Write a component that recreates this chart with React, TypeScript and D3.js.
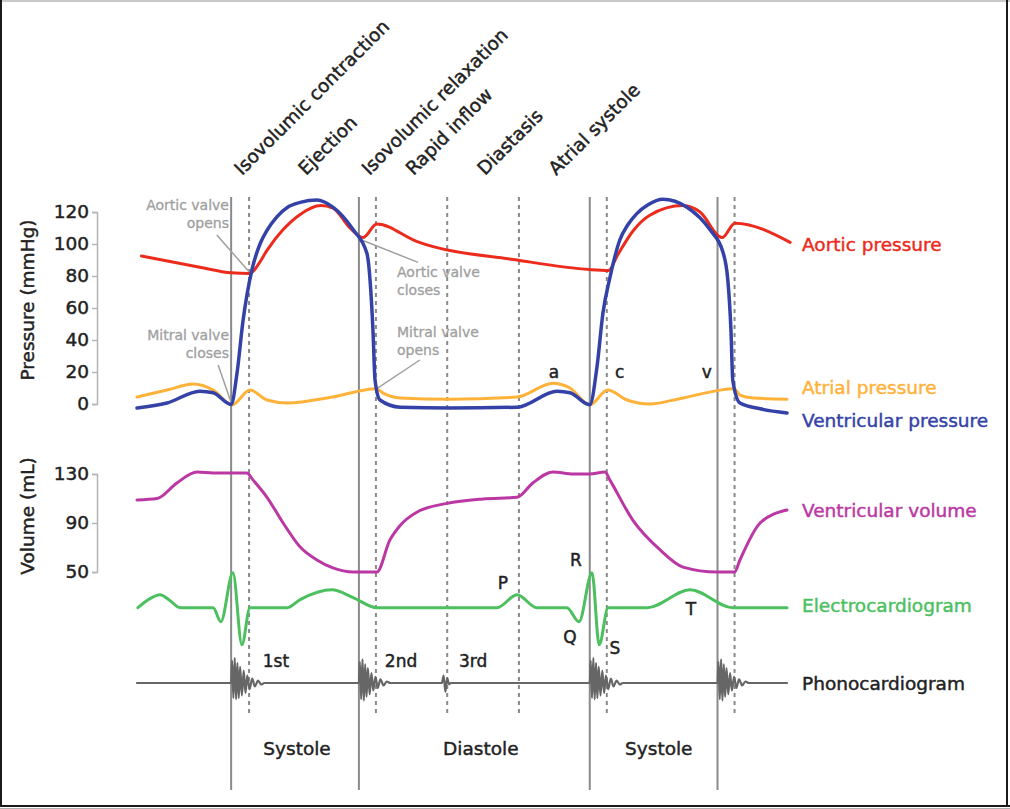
import React, { useEffect, useRef } from 'react';
import * as d3 from 'd3';

type Point = [number, number];

const width = 1010;
const height = 809;
const font = "'DejaVu Sans', sans-serif";

// cardiac events, seconds from start of trace
const solidEvents = [0.21, 0.495, 1.01, 1.295];
const dashedEvents = [0.25, 0.533, 0.692, 0.852, 1.048, 1.333];
const phaseBounds = [0.21, 0.25, 0.495, 0.533, 0.692, 0.852, 1.01];
const phaseNames = ['Isovolumic contraction', 'Ejection', 'Isovolumic relaxation', 'Rapid inflow', 'Diastasis', 'Atrial systole'];
const periodNames = ['Systole', 'Diastole', 'Systole'];
const periodCentres = [0.357, 0.767, 1.164];

const pressureTicks = [0, 20, 40, 60, 80, 100, 120];
const volumeTicks = [50, 90, 130];

// [time s, mmHg]
const aorticPressure: Point[] = [
  [0.01, 92.5], [0.14, 85.5], [0.21, 82], [0.252, 81.5], [0.27, 87], [0.29, 96], [0.326, 109],
  [0.364, 118.5], [0.41, 124], [0.437, 122.5], [0.475, 110], [0.504, 104], [0.535, 112.5],
  [0.625, 101.5], [0.848, 90], [1.01, 84], [1.052, 83.5], [1.072, 93], [1.106, 108],
  [1.144, 118], [1.218, 124], [1.256, 120], [1.305, 104], [1.334, 113], [1.457, 101],
];

const ventricularPressure: Point[] = [
  [0, -2.5], [0.067, 0.6], [0.14, 8], [0.17, 7], [0.21, -0.3], [0.223, 19], [0.2365, 52],
  [0.2565, 84], [0.2744, 100], [0.29, 108.5], [0.312, 117], [0.336, 123], [0.364, 126],
  [0.4015, 127.5], [0.437, 123], [0.482, 109], [0.513, 94], [0.52, 77], [0.5264, 46],
  [0.531, 15], [0.542, 2.5], [0.587, -2], [0.698, -2.5], [0.848, -2], [0.937, 8], [0.966, 7],
  [1.01, -0.5], [1.026, 23], [1.0395, 57], [1.055, 79], [1.077, 102.5], [1.095, 112],
  [1.115, 119], [1.14, 124.5], [1.173, 128], [1.227, 123], [1.278, 109], [1.307, 95],
  [1.318, 77.5], [1.325, 46], [1.329, 15], [1.345, 0.6], [1.39, -3], [1.45, -5.6],
];

const atrialPressure: Point[] = [
  [0, 4.4], [0.067, 8.7], [0.125, 12.5], [0.17, 8.7], [0.212, -0.5], [0.252, 8.7], [0.29, 2.5],
  [0.335, 0.6], [0.437, 4.4], [0.533, 9.6], [0.548, 7], [0.587, 3.8], [0.698, 3], [0.848, 4.4],
  [0.928, 13], [0.966, 10], [1.01, -0.5], [1.05, 8.7], [1.093, 2.5], [1.144, 0], [1.218, 3.8],
  [1.332, 9.6], [1.345, 5.6], [1.375, 3.8], [1.45, 3],
];

// [time s, mL]
const ventricularVolume: Point[] = [
  [0, 108.8], [0.045, 110], [0.089, 122.7], [0.134, 131.6], [0.17, 130.8], [0.214, 130.8],
  [0.245, 130.8], [0.259, 125], [0.29, 111], [0.326, 90], [0.364, 70.4], [0.4015, 59.8],
  [0.437, 53.3], [0.482, 50], [0.535, 50], [0.564, 76], [0.587, 88], [0.625, 99], [0.6915, 106],
  [0.772, 109.6], [0.848, 111], [0.883, 122.7], [0.928, 131.6], [0.973, 130], [1.01, 130],
  [1.044, 131.6], [1.055, 125], [1.106, 92.4], [1.167, 68], [1.218, 54], [1.294, 50],
  [1.333, 50], [1.345, 59.8], [1.39, 90], [1.45, 100.6],
];

// [time s, mV]
const electrocardiogram: Point[] = [
  [0.002, 0], [0.029, 0.26], [0.051, 0.37], [0.074, 0.2], [0.096, 0], [0.17, 0], [0.187, -0.4],
  [0.214, 1.0], [0.234, -1.06], [0.252, 0], [0.335, 0], [0.364, 0.23], [0.435, 0.51],
  [0.482, 0.29], [0.535, 0], [0.803, 0], [0.848, 0.37], [0.892, 0], [0.959, 0], [0.986, -0.4],
  [1.015, 1.0], [1.031, -1.06], [1.051, 0], [1.138, 0], [1.234, 0.51], [1.329, 0], [1.45, 0],
];

// heart sounds: [ms after onset, relative amplitude]
const firstSound: Point[] = [
  [0, 0], [2, 0.9], [5, -0.6], [8, 1.0], [11, -0.65], [14, 0.8], [17, -0.6], [20, 0.65],
  [24, -0.5], [28, 0.5], [32, -0.4], [36, 0.3], [41, -0.25], [47, 0.18], [53, -0.14],
  [60, 0.1], [67, -0.06], [74, 0],
];
const secondSound: Point[] = [
  [0, 0], [2, 0.85], [5, -0.65], [8, 0.95], [11, -0.7], [14, 0.75], [17, -0.55], [20, 0.6],
  [24, -0.45], [28, 0.4], [32, -0.3], [37, 0.25], [42, -0.2], [48, 0.15], [55, -0.1],
  [62, 0.06], [70, 0],
];
const thirdSound: Point[] = [[0, 0], [4, 0.3], [8, -0.35], [12, 0.2], [16, -0.05], [20, 0]];
const soundOnsets: { t: number; wave: Point[] }[] = [
  { t: 0.21, wave: firstSound },
  { t: 0.495, wave: secondSound },
  { t: 0.68, wave: thirdSound },
  { t: 1.01, wave: firstSound },
  { t: 1.295, wave: secondSound },
];
const soundNames = ['1st', '2nd', '3rd'];
const soundLabelTimes = [0.31, 0.589, 0.75];

const colors = {
  aortic: '#ec2b1c',
  atrial: '#ffb23a',
  ventricular: '#3442a8',
  volume: '#bb37a3',
  ecg: '#4cbf5f',
  phono: '#666666',
  grid: '#8a8a8a',
  note: '#a0a0a0',
  text: '#222222',
};

const App: React.FC = () => {
  const svgRef = useRef<SVGSVGElement | null>(null);

  useEffect(() => {
    if (!svgRef.current) {
      return;
    }
    const svg = d3.select(svgRef.current);
    svg.selectAll('*').remove();

    const x = d3.scaleLinear().domain([0, 1.45]).range([137, 787]);
    const pressureY = d3.scaleLinear().domain([0, 120]).range([404, 212]);
    const volumeY = d3.scaleLinear().domain([50, 130]).range([572, 474]);
    const ecgY = d3.scaleLinear().domain([-1, 1]).range([642.7, 572.7]);
    const phonoY = d3.scaleLinear().domain([-1, 1]).range([708, 658]);

    svg.append('rect').attr('width', width).attr('height', height).attr('fill', '#ffffff');

    // frame
    svg.append('line').attr('x1', 0).attr('x2', width).attr('y1', 1).attr('y2', 1)
      .attr('stroke', '#c8c8c8').attr('stroke-width', 2);
    svg.append('line').attr('x1', 1).attr('x2', 1).attr('y1', 0).attr('y2', 807)
      .attr('stroke', '#1a1a1a').attr('stroke-width', 2);
    svg.append('line').attr('x1', 1007).attr('x2', 1007).attr('y1', 0).attr('y2', 807)
      .attr('stroke', '#1a1a1a').attr('stroke-width', 2);
    svg.append('line').attr('x1', 0).attr('x2', width).attr('y1', 806).attr('y2', 806)
      .attr('stroke', '#1a1a1a').attr('stroke-width', 2);
    svg.append('line').attr('x1', 0).attr('x2', width).attr('y1', 808.5).attr('y2', 808.5)
      .attr('stroke', '#b0b0b0').attr('stroke-width', 1);

    // event lines
    svg.append('g')
      .selectAll('line')
      .data(solidEvents)
      .join('line')
      .attr('x1', d => x(d))
      .attr('x2', d => x(d))
      .attr('y1', 197)
      .attr('y2', 790)
      .attr('stroke', colors.grid)
      .attr('stroke-width', 2);

    svg.append('g')
      .selectAll('line')
      .data(dashedEvents)
      .join('line')
      .attr('x1', d => x(d))
      .attr('x2', d => x(d))
      .attr('y1', 197)
      .attr('y2', 716)
      .attr('stroke', colors.grid)
      .attr('stroke-width', 2)
      .attr('stroke-dasharray', '4 4');

    // heavier text, the reference lettering is a little bold
    const thicken = (sel: d3.Selection<any, any, any, any>, color: string, w = 0.45) =>
      sel.attr('stroke', color).attr('stroke-width', w).attr('stroke-linejoin', 'round');

    // phase labels
    svg.append('g')
      .selectAll('text')
      .data(phaseNames)
      .join('text')
      .attr('transform', (_, i) => {
        const cx = x((phaseBounds[i] + phaseBounds[i + 1]) / 2) + 2;
        return `translate(${cx},176) rotate(-45)`;
      })
      .attr('font-family', font)
      .attr('font-size', 18.5)
      .attr('fill', colors.text)
      .call(s => thicken(s, colors.text))
      .text(d => d);

    // axes
    const styleAxis = (g: d3.Selection<SVGGElement, unknown, null, undefined>) => {
      g.select('.domain').attr('stroke', '#b5b5b5').attr('stroke-width', 1.5);
      g.selectAll('.tick line').attr('stroke', '#b5b5b5').attr('stroke-width', 1.5);
      g.selectAll('.tick text')
        .attr('font-family', font)
        .attr('font-size', 18.5)
        .attr('fill', colors.text)
        .attr('stroke', colors.text)
        .attr('stroke-width', 0.45);
    };

    svg.append('g')
      .attr('transform', 'translate(97,0)')
      .call(d3.axisLeft(pressureY).tickValues(pressureTicks).tickSize(5).tickPadding(3))
      .call(styleAxis);

    svg.append('g')
      .attr('transform', 'translate(97,0)')
      .call(d3.axisLeft(volumeY).tickValues(volumeTicks).tickSize(5).tickPadding(3))
      .call(styleAxis);

    svg.append('text')
      .attr('transform', 'translate(34,300) rotate(-90)')
      .attr('text-anchor', 'middle')
      .attr('font-family', font)
      .attr('font-size', 18.5)
      .attr('fill', colors.text)
      .call(s => thicken(s, colors.text))
      .text('Pressure (mmHg)');

    svg.append('text')
      .attr('transform', 'translate(34,516) rotate(-90)')
      .attr('text-anchor', 'middle')
      .attr('font-family', font)
      .attr('font-size', 18.5)
      .attr('fill', colors.text)
      .call(s => thicken(s, colors.text))
      .text('Volume (mL)');

    // valve annotations
    const notes = svg.append('g')
      .attr('font-family', font)
      .attr('font-size', 14)
      .attr('fill', colors.note);
    const noteLine = (a: Point, b: Point) => {
      notes.append('line')
        .attr('x1', x(a[0])).attr('y1', pressureY(a[1]))
        .attr('x2', x(b[0])).attr('y2', pressureY(b[1]))
        .attr('stroke', colors.note)
        .attr('stroke-width', 1.5);
    };
    noteLine([0.178, 105.6], [0.252, 82]);
    noteLine([0.181, 24.4], [0.21, 1]);
    noteLine([0.497, 103], [0.627, 88.5]);
    noteLine([0.631, 27.5], [0.535, 9.6]);

    const addNote = (lines: string[], px: number, py: number, anchor: string) => {
      lines.forEach((line, i) => {
        notes.append('text')
          .attr('x', px)
          .attr('y', py + i * 18)
          .attr('text-anchor', anchor)
          .attr('stroke', colors.note)
          .attr('stroke-width', 0.3)
          .text(line);
      });
    };
    addNote(['Aortic valve', 'opens'], 229, 210, 'end');
    addNote(['Mitral valve', 'closes'], 229, 340, 'end');
    addNote(['Aortic valve', 'closes'], 397, 277, 'start');
    addNote(['Mitral valve', 'opens'], 397, 337, 'start');

    // curves
    const plot = (data: Point[], y: d3.ScaleLinear<number, number>, color: string, w: number, curve: d3.CurveFactory) => {
      const line = d3.line<Point>()
        .x(d => x(d[0]))
        .y(d => y(d[1]))
        .curve(curve);
      svg.append('path')
        .datum(data)
        .attr('fill', 'none')
        .attr('stroke', color)
        .attr('stroke-width', w)
        .attr('stroke-linejoin', 'round')
        .attr('stroke-linecap', 'round')
        .attr('d', line);
    };

    const phonocardiogram: Point[] = [[0, 0]];
    soundOnsets.forEach(s => {
      s.wave.forEach(([ms, a]) => phonocardiogram.push([s.t + ms / 1000, a]));
    });
    phonocardiogram.push([1.45, 0]);

    plot(aorticPressure, pressureY, colors.aortic, 3, d3.curveMonotoneX);
    plot(atrialPressure, pressureY, colors.atrial, 3, d3.curveMonotoneX);
    plot(ventricularPressure, pressureY, colors.ventricular, 3.5, d3.curveMonotoneX);
    plot(ventricularVolume, volumeY, colors.volume, 3, d3.curveMonotoneX);
    plot(electrocardiogram, ecgY, colors.ecg, 3, d3.curveMonotoneX);
    plot(phonocardiogram, phonoY, colors.phono, 2.2, d3.curveMonotoneX);

    // waveform letters
    const letters = svg.append('g')
      .attr('font-family', font)
      .attr('font-size', 17)
      .attr('fill', colors.text)
      .attr('stroke', colors.text)
      .attr('stroke-width', 0.45)
      .attr('text-anchor', 'middle')
      .attr('dominant-baseline', 'central');

    const pressureLetters: { label: string; t: number; v: number }[] = [
      { label: 'a', t: 0.93, v: 20 },
      { label: 'c', t: 1.077, v: 20 },
      { label: 'v', t: 1.271, v: 20 },
    ];
    pressureLetters.forEach(d => {
      letters.append('text').attr('x', x(d.t)).attr('y', pressureY(d.v)).text(d.label);
    });

    const ecgLetters: { label: string; t: number; v: number }[] = [
      { label: 'P', t: 0.816, v: 0.7 },
      { label: 'R', t: 0.979, v: 1.36 },
      { label: 'Q', t: 0.966, v: -0.84 },
      { label: 'S', t: 1.066, v: -1.15 },
      { label: 'T', t: 1.236, v: -0.05 },
    ];
    ecgLetters.forEach(d => {
      letters.append('text').attr('x', x(d.t)).attr('y', ecgY(d.v)).text(d.label);
    });

    soundNames.forEach((name, i) => {
      letters.append('text').attr('x', x(soundLabelTimes[i])).attr('y', phonoY(0.88)).text(name);
    });

    periodNames.forEach((name, i) => {
      letters.append('text')
        .attr('x', x(periodCentres[i]))
        .attr('y', 748)
        .attr('font-size', 18.5)
        .text(name);
    });

    // series names on the right
    const seriesLabels: { label: string; color: string; y: number }[] = [
      { label: 'Aortic pressure', color: colors.aortic, y: pressureY(100) },
      { label: 'Atrial pressure', color: colors.atrial, y: pressureY(10.6) },
      { label: 'Ventricular pressure', color: colors.ventricular, y: pressureY(-10.6) },
      { label: 'Ventricular volume', color: colors.volume, y: volumeY(100.6) },
      { label: 'Electrocardiogram', color: colors.ecg, y: ecgY(0.05) },
      { label: 'Phonocardiogram', color: colors.text, y: phonoY(0) },
    ];
    svg.append('g')
      .selectAll('text')
      .data(seriesLabels)
      .join('text')
      .attr('x', 802)
      .attr('y', d => d.y)
      .attr('dominant-baseline', 'central')
      .attr('font-family', font)
      .attr('font-size', 18.5)
      .attr('fill', d => d.color)
      .attr('stroke', d => d.color)
      .attr('stroke-width', 0.45)
      .text(d => d.label);
  }, []);

  return (
    <svg
      ref={svgRef}
      width={width}
      height={height}
      viewBox={`0 0 ${width} ${height}`}
      style={{ position: 'absolute', left: 0, top: 0, display: 'block' }}
    />
  );
};

export default App;
